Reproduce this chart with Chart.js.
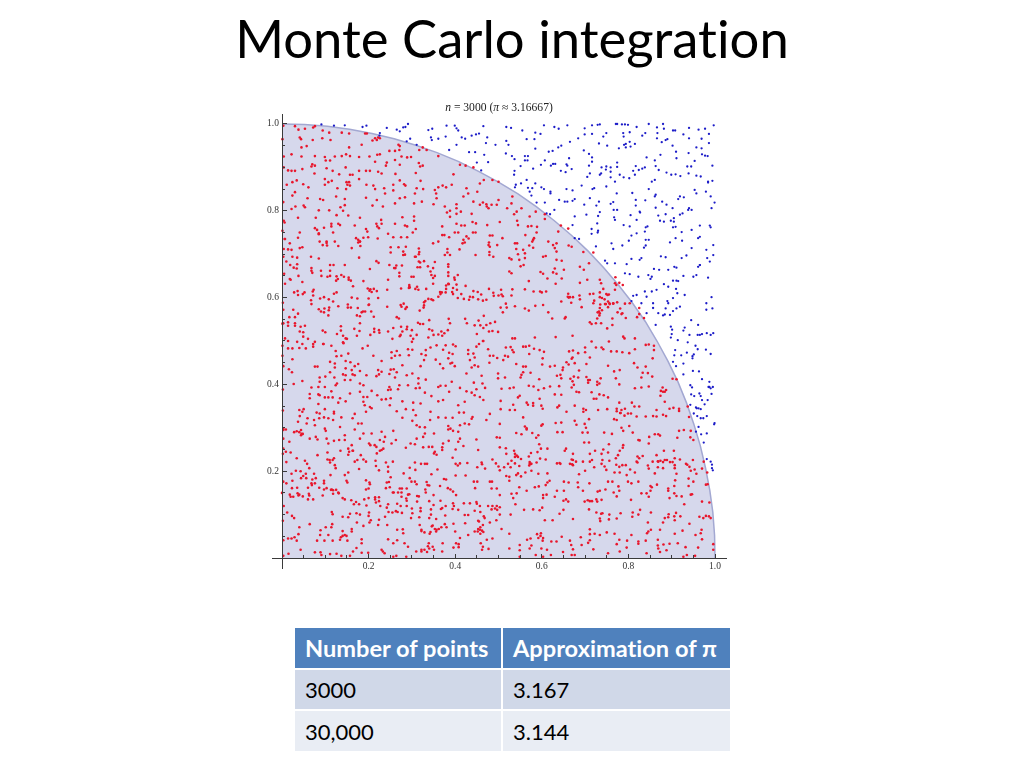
<!DOCTYPE html>
<html>
<head>
<meta charset="utf-8">
<title>Monte Carlo integration</title>
<script src="https://cdn.jsdelivr.net/npm/chart.js@4"></script>
<style>
    html, body { margin: 0; padding: 0; background: #fff; width: 1024px; height: 768px; overflow: hidden; }
    h1 { position: absolute; left: 0; width: 1024px; top: 6px; margin: 0; text-align: center; font: 400 52.6px Lato, sans-serif; font-variant-ligatures: none; color: #000; }
    #plotTitle { position: absolute; left: 240px; width: 518px; top: 101px; text-align: center; font: 11.6px "Liberation Serif", serif; color: #222; }
    #plot { position: absolute; left: 240px; top: 100px; }
    table { position: absolute; left: 295px; top: 628px; width: 435px; border-collapse: collapse; font: 22px Lato, sans-serif; font-variant-ligatures: none; color: #000; }
    td, th { padding: 0 0 0 10px; text-align: left; border: 2px solid #fff; border-top: 0; }
    td:first-child, th:first-child { border-left: 0; width: 196px; }
    td:last-child, th:last-child { border-right: 0; }
    th { background: #4f81bd; color: #fff; font-weight: 700; font-size: 23.6px; height: 40px; white-space: nowrap; }
    tr.a td { background: #d0d8e8; height: 39px; }
    tr.b td { background: #e9edf4; height: 40px; border-bottom: 0; }
</style>
</head>
<body>
<h1>Monte Carlo integration</h1>
<canvas id="plot" width="518" height="490"></canvas>
<div id="plotTitle"><i>n</i> = 3000 (<i>π</i> ≈ 3.16667)</div>
<table>
    <tr><th>Number of points</th><th>Approximation of π</th></tr>
    <tr class="a"><td>3000</td><td>3.167</td></tr>
    <tr class="b"><td>30,000</td><td>3.144</td></tr>
</table>
<script>
// Tick labels
const majorTicks = [0.2, 0.4, 0.6, 0.8, 1.0];

// Quarter circle boundary
const arcX = [0, .052, .105, .156, .208, .259, .309, .358, .407, .454, .5, .545, .588, .629, .669, .707, .743, .777, .809, .839, .866, .891, .914, .934, .951, .966, .978, .988, .995, .999, 1];
const arcY = [1, .999, .995, .988, .978, .966, .951, .934, .914, .891, .866, .839, .809, .777, .743, .707, .669, .629, .588, .545, .5, .454, .407, .358, .309, .259, .208, .156, .105, .052, 0];

// Points, each list is x, y, x, y, ...
const blueTopLeft = [
.091,.999,.120,.996,.145,.997,.186,.993,.195,.996,.226,.979,.225,.973,.242,.991,.265,.987,.272,.983,.280,.992,.285,.993,.291,1.0,.296,.966,.288,.960,.311,.952,.338,.986,.347,.989,.344,.969,.346,.963,.361,.966,.380,.996,.399,.996,.403,.990,.407,.985,.378,.971,.415,.969,.423,.966,.438,.973,.448,.976,.455,.978,.465,.995,.474,.969,.471,.956,.493,.952,.386,.940,.403,.952,.432,.935,.446,.935,.467,.929,.450,.911,.476,.912,.460,.893
];
const blueUpper = [
.518,.993,.529,.991,.555,.985,.605,.997,.629,.993,.639,.989,.659,.997,.597,.977,.585,.980,.565,.965,.583,.965,.518,.961,.523,.952,.585,.943,.517,.932,.531,.926,.537,.919,.561,.926,.568,.926,.561,.916,.567,.916,.551,.903,.537,.892,.536,.883,.580,.897,.598,.906,.607,.916,.616,.936,.625,.938,.638,.946,.645,.950,.665,.959,.684,.967,.699,.990,.716,.997,.729,.998,.734,.999,.699,.976,.716,.977,.749,.979,.742,.971,.732,.955,.751,.950,.697,.939,.709,.931,.716,.923,.716,.913,.663,.921,.621,.904,.626,.908,.631,.908,.657,.907,.659,.904,.644,.892,.655,.889,.669,.896,.709,.904,.711,.886,.705,.878,.738,.900,.749,.902,.737,.886,.748,.895,.759,.900,.759,.890,.774,.911,.774,.901,.778,.944,.790,.952,.794,.954,.794,.946,.803,.959,.805,.948,.815,.954,.789,.971,.803,.981,.788,.979,.771,1.0,.774,1.0,.785,.999,.792,.999,.799,.998,.819,.993,.847,1.0,.866,.992,.880,1.0,.882,.989,.839,.979,.832,.973,.866,.967,.867,.979,.903,.985,.908,.985,.877,.958,.886,.963,.890,.965,.902,.950,.910,.936,.940,.991,.927,.976,.940,.967,.962,.987,.977,.989,.997,.997,.969,.966,.986,.977,.986,.956
];
const blueMiddle = [
.969,.944,.957,.946,.939,.933,.970,.930,.977,.927,.983,.926,.994,.904,.953,.915,.945,.902,.936,.902,.911,.921,.874,.929,.861,.916,.863,.903,.870,.894,.842,.923,.838,.900,.832,.897,.824,.894,.817,.903,.811,.892,.815,.883,.802,.875,.789,.877,.780,.883,.759,.877,.769,.867,.734,.883,.861,.871,.854,.867,.888,.888,.899,.883,.909,.884,.920,.880,.939,.886,.957,.881,.967,.879,.984,.867,.994,.869,.984,.865,.863,.837,.847,.850,.809,.841,.773,.840,.749,.856,.721,.852,.717,.850,.692,.858,.671,.847,.657,.850,.620,.844,.620,.840,.605,.850,.599,.854,.585,.863,.578,.852,.568,.853,.565,.871,.552,.863,.540,.860,.538,.854,.572,.844,.576,.835,.676,.827,.671,.823,.659,.821,.653,.821,.640,.825,.607,.819,.588,.819,.629,.802,.611,.794,.619,.792,.698,.814,.711,.829,.732,.821,.726,.812,.765,.820,.759,.816,.766,.802,.774,.802,.817,.825,.817,.812,.839,.824,.861,.833,.878,.821,.888,.814,.902,.806,.919,.833,.915,.827,.928,.831,.940,.806,.946,.802,.953,.848,.957,.840,.979,.844,.990,.833,.999,.819,.992,.806,.919,.791,.925,.794,.938,.802,.905,.783,.886,.792,.869,.789,.863,.807,.826,.798,.827,.796,.805,.790,.767,.785,.730,.788,.734,.797,.703,.791,.676,.787,.671,.767,.728,.771,.715,.758,.715,.747,.730,.754,.729,.750,.686,.735,.676,.737,.769,.779,.789,.767,.819,.779,.803,.764,.807,.743,.801,.731,.819,.748,.840,.762,.844,.764,.838,.752,.840,.733,.847,.733,.836,.715,.840,.720
];
const blueLower = [
.873,.777,.882,.775,.898,.777,.905,.775,.903,.762,.909,.763,.923,.751,.946,.756,.965,.766,.988,.766,.990,.762,.965,.740,.961,.737,.924,.731,.909,.737,.896,.727,.946,.714,.980,.710,.996,.721,.996,.698,.982,.691,.988,.683,.965,.675,.961,.671,.984,.646,.957,.652,.950,.648,.923,.691,.934,.697,.875,.695,.886,.693,.830,.691,.826,.687,.807,.689,.796,.677,.786,.720,.765,.712,.761,.725,.725,.718,.746,.685,.751,.679,.769,.679,.792,.656,.803,.654,.823,.648,.846,.652,.854,.648,.851,.643,.871,.664,.859,.666,.892,.664,.906,.671,.911,.669,.903,.639,.911,.639,.915,.638,.927,.650,.965,.675,.882,.631,.892,.625,.910,.620,.913,.610,.930,.606,.903,.599,.892,.587,.890,.592,.919,.579,.911,.575,.903,.569,.886,.575,.884,.561,.896,.560,.880,.559,.869,.564,.857,.576,.857,.587,.842,.602,.838,.614,.819,.606,.811,.604,.807,.592,.830,.587,.854,.614,.865,.618,.842,.564,.863,.537,.898,.533,.901,.526,.930,.531,.945,.548,.961,.537,.992,.601,.980,.587,.994,.575,.980,.572,.981,.518,.996,.518,.965,.514
];
const blueEdge = [
.898,.508,.900,.516,.914,.502,.927,.524,.941,.514,.937,.497,.960,.514,.970,.516,.955,.489,.990,.514,.960,.481,.979,.480,.990,.470,.908,.479,.906,.467,.922,.467,.935,.473,.951,.469,.948,.465,.948,.460,.903,.452,.910,.442,.927,.448,.927,.423,.949,.431,.963,.430,.970,.412,.987,.406,.987,.394,.995,.394,.985,.394,.992,.378,.990,.391,.943,.398,.947,.393,.945,.377,.964,.379,.952,.373,.967,.373,.970,.364,.943,.353,.956,.347,.967,.343,.983,.364,.976,.354,.958,.345,.962,.345,.951,.333,.973,.322,.981,.327,.959,.327,.967,.322,.962,.302,.999,.311,.956,.291,.968,.285,.981,.287,.998,.308,.974,.266,.981,.228,.990,.222,.993,.215,.993,.207,.995,.202
];
const redTop = [
.003,.996,.030,.995,.038,.987,.053,.989,.072,.992,.076,.995,.094,.985,.109,.980,.138,.980,.155,.978,.001,.965,.041,.969,.044,.965,.045,.946,.057,.949,.071,.963,.093,.967,.112,.963,.192,.978,.196,.978,.215,.967,.222,.969,.226,.967,.209,.962,.219,.963,.155,.946,.184,.952,.269,.952,.272,.949,.271,.940,.261,.938,.248,.938,.325,.946,.334,.940,.361,.926,.317,.940,.004,.925,.022,.930,.045,.925,.076,.926,.099,.924,.101,.916,.111,.916,.122,.925,.138,.926,.148,.930,.157,.926,.178,.924,.202,.925,.220,.929,.226,.930,.215,.913,.242,.911,.240,.904,.261,.917,.276,.925,.289,.923,.298,.924,.272,.906,.316,.910,.319,.902,.325,.904,.070,.907,.076,.904,.068,.902,.103,.898,.117,.892,.147,.900,.075,.886,.004,.900,.014,.893,.022,.892,.030,.892,.047,.896,.132,.884,.157,.883,.163,.883,.178,.892,.194,.892,.203,.892,.222,.890,.230,.886,.262,.885,.309,.887,.396,.884,.411,.906,.424,.904,.442,.900,.466,.871,.486,.871,.500,.867,.099,.873,.115,.869,.107,.866,.099,.860,.149,.866,.155,.866,.151,.860,.157,.858,.148,.850,.178,.873,.195,.860,.211,.858,.215,.850,.257,.860,.272,.870,.282,.861,.285,.858,.320,.869,.311,.852,.307,.840,.024,.866,.034,.870,.049,.861,.061,.854,.011,.860,.030,.843,.024,.835,.059,.829,.088,.827,.095,.825,.128,.852,.125,.833,.145,.827,.194,.830,.219,.825,.238,.840,.236,.852,.257,.847,.272,.829,.284,.831,.305,.817,.326,.850,.353,.848,.361,.854,.371,.858,.379,.854,.392,.860,.426,.852,.430,.840,.451,.844,.457,.863,.356,.840,.357,.829,.419,.833,.403,.815,.473,.810,.484,.814,.500,.825,.496,.814,.457,.814,.442,.821,.403,.806,.376,.810,.022,.804,.031,.810,.050,.812,.053,.808,.085,.801,.109,.801,.135,.808,.145,.813,.141,.800,.209,.812,.233,.810,.261,.817,.323,.821,.350,.815,.381,.796,.403,.793,.388,.800,.464,.819,.472,.815,.477,.806,.413,.798
];
const redUpperLeft = [
.004,.777,.037,.784,.078,.784,.126,.790,.153,.789,.180,.784,.278,.785,.305,.787,.305,.777,.388,.786,.438,.793,.448,.771,.440,.774,.114,.770,.114,.764,.130,.770,.134,.767,.168,.766,.218,.770,.230,.770,.229,.779,.220,.764,.224,.760,.261,.770,.284,.766,.289,.764,.370,.764,.403,.770,.414,.766,.422,.766,.474,.767,.001,.754,.076,.760,.081,.756,.085,.748,.085,.746,.097,.761,.041,.750,.118,.750,.194,.758,.197,.752,.245,.747,.309,.758,.302,.750,.431,.736,.370,.744,.375,.744,.399,.750,.407,.750,.441,.750,.447,.750,.480,.743,.486,.743,.426,.741,.386,.739,.007,.735,.037,.738,.171,.737,.188,.738,.199,.739,.275,.739,.289,.739,.257,.739,.006,.735,.103,.729,.122,.729,.087,.729,.103,.726,.104,.720,.094,.721,.130,.719,.176,.727,.180,.729,.176,.733,.221,.736,.181,.719,.180,.729,.349,.725,.361,.729,.419,.733,.417,.725,.422,.727,.478,.727,.477,.721,.480,.717,.497,.721,.018,.725,.022,.710,.004,.712,.014,.711,.041,.714,.047,.716,.161,.714,.251,.716,.269,.716,.286,.717,.251,.704,.280,.706,.316,.713,.317,.705,.382,.712,.382,.704,.388,.698,.447,.698,.410,.711,.479,.698,.479,.705,.488,.694,.284,.699,.307,.694,.328,.684,.316,.700,.309,.694,.280,.698,.376,.698,.353,.682,.024,.694,.035,.692,.067,.694,.085,.690,.178,.692,.145,.675,.111,.675,.019,.675,.035,.677,.010,.683,.119,.675,.218,.684,.223,.680,.248,.675,.264,.674,.277,.674,.262,.668,.316,.683,.319,.681,.337,.672,.349,.668,.313,.670,.384,.677,.384,.658,.343,.660,.319,.670,.384,.671
];
const redUpperMid = [
.027,.669,.034,.667,.068,.668,.090,.662,.068,.662,.070,.657,.111,.662,.111,.650,.018,.643,.020,.641,.047,.636,.038,.650,.137,.652,.154,.646,.159,.639,.203,.666,.245,.641,.259,.668,.271,.657,.271,.649,.299,.648,.304,.648,.345,.652,.353,.650,.349,.645,.384,.650,.384,.632,.398,.646,.406,.652,.385,.631,.399,.641,.349,.632,.275,.621,.294,.629,.294,.625,.312,.625,.295,.623,.379,.628,.379,.620,.393,.613,.403,.630,.424,.627,.414,.608,.395,.622,.091,.650,.105,.648,.126,.649,.125,.639,.143,.648,.129,.643,.212,.620,.219,.615,.243,.618,.164,.626,.154,.641,.036,.615,.037,.606,.028,.612,.048,.608,.052,.612,.073,.618,.072,.605,.120,.609,.126,.612,.071,.614,.198,.621,.202,.616,.207,.613,.204,.619,.188,.638,.293,.622,.308,.620,.315,.618,.333,.620,.369,.612,.378,.612,.404,.618,.395,.608,.478,.620,.488,.611,.489,.604,.460,.607,.442,.615,.452,.613,.434,.602,.441,.601,.365,.613,.345,.596,.338,.597,.366,.608,.361,.602,.349,.594,.406,.599,.420,.597,.453,.596,.464,.593,.472,.595,.432,.595,.088,.598,.108,.596,.097,.601,.068,.585,.067,.594,.118,.591,.161,.600,.174,.598,.200,.598,.222,.599,.200,.583,.201,.584,.274,.583,.288,.578,.327,.577,.328,.589,.331,.592,.328,.582,.281,.586,.243,.579,.276,.579,.285,.574,.152,.584,.152,.577,.130,.580,.159,.577,.175,.576,.085,.573,.098,.575,.108,.571,.003,.572,.026,.572,.109,.577,.090,.568,.097,.566,.107,.559,.173,.559,.184,.566,.180,.557,.187,.568,.192,.568,.206,.568,.212,.556,.265,.555,.318,.570,.270,.552,.340,.548,.385,.551,.466,.558,.423,.551,.454,.547,.481,.541,.492,.544,.458,.536,.472,.537,.445,.536
];
const redUpperLow = [
.037,.563,.017,.555,.030,.555,.003,.541,.014,.543,.014,.535,.030,.541,.030,.535,.043,.533,.053,.535,.180,.541,.213,.528,.213,.521,.224,.525,.225,.519,.314,.542,.319,.539,.326,.539,.289,.533,.275,.533,.288,.527,.388,.541,.427,.541,.465,.530,.486,.523,.478,.522,.136,.534,.167,.528,.257,.530,.245,.522,.094,.524,.100,.520,.136,.524,.179,.523,.173,.512,.278,.522,.340,.527,.347,.524,.368,.522,.383,.525,.350,.514,.450,.516,.499,.521,.041,.522,.049,.520,.127,.516,.204,.514,.297,.512,.311,.514,.375,.518,.300,.525,.303,.505,.274,.514,.255,.505,.007,.506,.049,.510,.060,.505,.141,.512,.147,.506,.150,.505,.338,.508,.361,.515,.370,.512,.035,.498,.076,.498,.096,.493,.142,.495,.272,.511,.300,.498,.395,.492,.464,.500
];
const redMiddleLeft = [
.014,.500,.047,.493,.072,.493,.095,.493,.141,.497,.114,.489,.014,.483,.024,.483,.040,.484,.055,.483,.072,.487,.124,.477,.153,.471,.186,.483,.198,.489,.253,.474,.265,.477,.261,.466,.272,.467,.291,.481,.301,.480,.332,.479,.343,.485,.357,.490,.378,.490,.401,.488,.430,.479,.449,.487,.455,.493,.465,.500,.476,.481,.001,.466,.024,.458,.111,.452,.126,.465,.137,.466,.122,.448,.147,.454,.158,.451,.211,.466,.230,.454,.253,.461,.293,.467,.322,.470,.332,.467,.328,.456,.355,.457,.372,.480,.386,.473,.394,.470,.384,.460,.393,.450,.365,.447,.430,.470,.442,.471,.445,.462,.434,.456,.480,.466,.488,.466,.497,.461,.076,.441,.082,.441,.122,.439,.168,.442,.176,.447,.147,.437,.016,.435,.023,.428,.195,.421,.222,.433,.230,.429,.224,.423,.251,.434,.258,.435,.265,.428,.248,.424,.278,.444,.288,.421,.301,.425,.320,.442,.389,.448,.399,.442,.372,.437,.438,.439,.445,.444,.453,.441,.479,.450,.426,.425,.461,.420,.499,.425,.087,.416,.100,.418,.111,.428,.121,.416,.141,.423,.161,.433,.163,.423,.180,.431,.147,.421,.168,.421,.218,.419,.261,.416,.315,.414,.332,.411,.047,.408,.145,.410,.158,.410,.087,.406,.084,.394,.027,.401,.124,.398,.127,.402,.180,.402,.188,.398,.271,.398,.291,.398,.315,.402,.392,.406,.443,.404,.463,.402,.499,.414,.068,.393,.099,.394,.114,.384,.157,.379,.180,.383,.207,.385,.245,.387,.251,.388,.268,.389,.248,.394,.309,.391,.318,.392,.330,.381,.361,.394,.366,.397,.378,.397,.386,.383,.411,.392,.449,.389,.469,.392
];
const redMiddleLow = [
.064,.378,.084,.377,.087,.375,.099,.370,.064,.368,.107,.370,.117,.370,.134,.368,.220,.375,.188,.371,.197,.371,.230,.365,.240,.366,.251,.368,.345,.373,.361,.361,.372,.364,.426,.384,.438,.381,.445,.375,.465,.364,.457,.371,.130,.358,.147,.361,.188,.360,.278,.361,.303,.358,.320,.356,.191,.352,.203,.348,.207,.345,.084,.355,.249,.352,.422,.360,.040,.341,.050,.343,.037,.314,.047,.337,.041,.327,.080,.335,.087,.333,.099,.343,.120,.337,.120,.333,.194,.337,.265,.338,.286,.343,.303,.341,.343,.337,.407,.352,.409,.335,.420,.335,.480,.332,.059,.322,.074,.318,.086,.322,.097,.324,.107,.322,.118,.318,.137,.324,.163,.322,.168,.332,.278,.323,.301,.316,.309,.329,.361,.324,.378,.323,.394,.323,.438,.321,.440,.325,.472,.318,.057,.310,.076,.306,.176,.310,.184,.310,.342,.318,.411,.306,.422,.310,.432,.308,.003,.298,.099,.298,.134,.302,.101,.293,.168,.296,.311,.306,.318,.302,.330,.301,.384,.304,.389,.298,.384,.296,.395,.293,.257,.293,.207,.287,.230,.291,.188,.287,.407,.291,.238,.279,.145,.283,.326,.279,.330,.287,.351,.287,.003,.275,.064,.275,.078,.279,.082,.273,.103,.275,.120,.270,.132,.272,.145,.272,.180,.275,.311,.275,.017,.268,.107,.264,.161,.260,.201,.264,.204,.260,.214,.260,.226,.272,.235,.268,.253,.264,.263,.272,.297,.264,.307,.262,.372,.264,.385,.270,.411,.275,.407,.268,.449,.273,.496,.278,.003,.252,.153,.252,.155,.245,.163,.247,.218,.256,.226,.247,.234,.252,.286,.254,.326,.255,.339,.256,.347,.256,.370,.255,.370,.249,.353,.245,.401,.250,.419,.258,.453,.249
];
const redUpperRight = [
.532,.833,.530,.817,.520,.806,.553,.806,.542,.798,.536,.792,.586,.798,.572,.787,.607,.792,.607,.781,.503,.774,.543,.777,.545,.767,.568,.764,.576,.765,.589,.763,.588,.750,.562,.744,.644,.766,.638,.752,.661,.759,.509,.737,.538,.725,.543,.725,.580,.733,.578,.729,.582,.737,.615,.729,.626,.721,.634,.725,.630,.714,.571,.720,.580,.715,.669,.717,.662,.720,.541,.712,.557,.710,.561,.702,.545,.700,.525,.691,.530,.688,.561,.691,.548,.687,.551,.672,.558,.675,.603,.694,.609,.696,.634,.706,.634,.687,.646,.685,.696,.705,.719,.704,.688,.671,.697,.664,.709,.679,.525,.660,.530,.656,.651,.664,.597,.659,.603,.655,.626,.658,.634,.655,.630,.667,.613,.644,.632,.632,.646,.644,.742,.620,.749,.608,.688,.634,.705,.641,.734,.641,.770,.647,.779,.634,.787,.629,.737,.633,.570,.638,.600,.612,.596,.614,.581,.614,.532,.619,.561,.619,.506,.618,.510,.603,.500,.605,.687,.605,.661,.609,.660,.602,.665,.601,.688,.596,.711,.608,.748,.585,.746,.585,.769,.633,.772,.629,.769,.618,.774,.589,.755,.607,.719,.609,.721,.593,.739,.599,.752,.606,.781,.575,.672,.601,.668,.588,.645,.591,.538,.580,.561,.575,.507,.607,.505,.577,.517,.586,.530,.605,.610,.614,.603,.583,.585,.581,.570,.570,.519,.577,.510,.566,.615,.566,.624,.552,.662,.600,.655,.555,.653,.552,.729,.566,.734,.564,.732,.568,.728,.552,.733,.559,.734,.601,.745,.596,.756,.587,.753,.591,.765,.586,.734,.612,.734,.576,.757,.585,.719,.587,.735,.584,.739,.571,.765,.587,.775,.566,.784,.562,.794,.553,.725,.541,.737,.541,.751,.529,.763,.552,.803,.587,.825,.562,.836,.553,.786,.564,.792,.586,.825,.576,.820,.555,.692,.578,.715,.539,.711,.543,.753,.578,.763,.537
];
const redRightMid = [
.532,.506,.538,.506,.584,.508,.632,.509,.671,.512,.517,.485,.528,.486,.532,.479,.535,.474,.557,.487,.563,.487,.571,.489,.582,.482,.595,.479,.605,.475,.715,.499,.700,.485,.725,.485,.738,.485,.755,.499,.742,.481,.760,.476,.773,.476,.788,.510,.791,.506,.815,.506,.840,.491,.847,.492,.859,.489,.859,.479,.786,.474,.802,.472,.815,.481,.672,.478,.663,.476,.684,.472,.700,.474,.571,.470,.515,.466,.522,.464,.511,.456,.602,.460,.711,.462,.856,.460,.541,.447,.557,.441,.563,.441,.601,.446,.619,.441,.630,.443,.657,.451,.669,.459,.671,.462,.662,.446,.676,.449,.703,.447,.753,.443,.813,.449,.821,.439,.840,.441,.649,.439,.648,.433,.686,.432,.767,.430,.780,.433,.574,.427,.557,.428,.553,.422,.551,.416,.515,.416,.635,.420,.643,.422,.645,.414,.594,.412,.674,.418,.684,.416,.703,.417,.707,.410,.833,.427,.845,.426,.830,.416,.855,.418,.771,.414,.902,.413,.911,.412,.666,.413,.671,.407,.674,.399,.707,.404,.711,.410,.728,.406,.736,.414,.728,.399,.733,.402,.779,.400,.640,.396,.570,.397,.581,.395,.605,.391,.619,.395,.507,.390,.526,.391,.535,.393,.669,.393,.815,.391,.830,.393,.847,.395,.879,.393,.887,.387,.884,.383,.875,.385,.874,.374,.880,.383,.549,.374,.545,.370,.592,.387,.630,.377,.645,.376,.680,.383,.686,.382,.715,.382,.733,.377,.743,.375,.753,.370,.595,.367,.505,.362,.565,.358,.580,.357,.580,.351,.568,.353,.534,.353,.526,.341,.505,.343,.538,.341,.640,.351,.636,.347,.676,.351,.599,.351,.602,.344,.720,.367,.726,.367,.696,.344,.702,.341,.730,.341,.751,.343,.779,.358,.808,.358,.825,.349,.814,.349,.884,.360,.904,.346,.917,.344,.937,.349,.865,.341,.865,.326,.880,.330,.887,.327,.657,.337
];
const redRightLow = [
.696,.337,.773,.344,.784,.341,.792,.344,.781,.334,.799,.333,.791,.328,.782,.334,.773,.338,.806,.333,.840,.326,.819,.326,.857,.327,.895,.344,.917,.339,.940,.325,.503,.309,.557,.324,.602,.308,.599,.305,.561,.303,.565,.299,.565,.296,.632,.311,.645,.312,.676,.316,.680,.307,.699,.309,.709,.320,.767,.320,.773,.318,.702,.300,.784,.300,.802,.304,.541,.288,.553,.285,.578,.288,.592,.283,.587,.277,.636,.290,.648,.290,.694,.289,.706,.289,.744,.289,.762,.286,.788,.293,.810,.289,.861,.285,.869,.285,.873,.282,.848,.279,.917,.293,.928,.295,.944,.293,.913,.277,.943,.278,.950,.272,.594,.262,.698,.266,.755,.262,.787,.254,.788,.260,.503,.277,.518,.240,.517,.253,.598,.252,.613,.252,.575,.242,.656,.252,.709,.266,.753,.243,.742,.250,.823,.272,.826,.271,.847,.264,.970,.206,.941,.210,.933,.217,.936,.215,.953,.204,.889,.226,.868,.223,.856,.222,.819,.222,.847,.206,.861,.195,.779,.210,.772,.215,.756,.224,.740,.226,.721,.209,.695,.222,.641,.219,.670,.216,.700,.201,.745,.211,.845,.213,.821,.220,.503,.255,.542,.236,.538,.233,.530,.224,.545,.233,.552,.228,.548,.212,.570,.234,.574,.217,.572,.221,.562,.197,.596,.229,.588,.220,.552,.188,.525,.187,.513,.209,.503,.202
];
const redBottomLeft = [
.009,.245,.020,.243,.082,.237,.105,.243,.120,.230,.135,.247,.153,.238,.164,.247,.182,.237,.219,.241,.230,.249,.351,.241,.357,.238,.034,.230,.010,.221,.053,.224,.058,.217,.063,.207,.105,.227,.110,.226,.117,.226,.122,.214,.124,.207,.111,.220,.174,.226,.168,.222,.188,.227,.194,.222,.216,.224,.217,.212,.240,.220,.245,.210,.256,.222,.295,.208,.307,.220,.321,.217,.330,.217,.335,.217,.394,.231,.401,.217,.406,.213,.411,.218,.428,.219,.451,.209,.462,.216,.461,.220,.486,.227,.469,.206,.494,.218,.500,.211,.022,.194,.032,.201,.043,.200,.049,.189,.055,.194,.056,.184,.044,.184,.010,.172,.024,.178,.074,.194,.078,.184,.070,.181,.076,.172,.068,.172,.112,.191,.145,.191,.153,.197,.178,.205,.194,.179,.202,.174,.224,.202,.245,.199,.251,.186,.281,.195,.295,.184,.299,.176,.308,.203,.345,.193,.359,.204,.374,.182,.379,.181,.401,.190,.424,.190,.443,.176,.451,.176,.480,.176,.485,.176,.149,.178,.151,.174,.203,.170,.242,.174,.307,.176,.334,.175,.336,.168,.097,.178,.097,.172,.247,.175,.311,.170
];
const redBottomMid = [
.097,.158,.103,.161,.115,.158,.086,.162,.069,.168,.060,.162,.035,.162,.023,.161,.113,.157,.118,.156,.125,.157,.131,.149,.130,.151,.026,.141,.063,.144,.048,.142,.062,.148,.040,.146,.036,.149,.094,.144,.118,.148,.194,.158,.200,.160,.240,.161,.249,.163,.272,.160,.277,.160,.288,.160,.256,.151,.258,.151,.268,.151,.276,.151,.276,.141,.350,.145,.332,.151,.331,.158,.402,.145,.383,.161,.389,.158,.365,.166,.340,.167,.395,.153,.446,.161,.484,.160,.496,.160,.000,.150,.018,.146,.060,.135,.072,.135,.145,.135,.190,.135,.200,.138,.215,.140,.224,.140,.160,.133,.294,.147,.287,.137,.291,.146,.312,.143,.316,.142,.340,.131,.288,.132,.312,.130,.020,.141,.038,.144,.140,.138,.166,.124,.178,.124,.215,.135,.224,.131,.288,.120,.171,.129,.195,.121,.217,.128,.245,.124,.266,.125,.274,.120,.227,.120,.350,.122,.366,.132,.378,.120,.449,.129,.457,.120,.476,.120,.395,.126,.300,.114,.320,.115,.267,.106,.263,.108,.242,.116,.320,.108,.344,.112,.370,.115,.397,.120,.407,.111,.420,.126,.434,.126,.450,.125,.486,.120,.496,.120,.458,.106,.445,.109,.012,.105,.115,.106,.157,.102,.172,.103,.201,.105,.246,.106,.255,.105,.277,.104,.301,.103,.344,.100,.377,.098,.394,.113,.367,.113,.484,.112,.492,.114,.497,.111,.023,.097,.028,.092,.117,.101,.140,.095,.153,.094,.180,.100,.200,.097,.205,.087,.202,.082,.238,.095,.224,.088,.298,.092,.317,.094,.340,.092,.356,.090,.455,.084,.466,.096,.422,.099,.430,.099,.468,.092,.480,.082,.453,.086,.495,.087
];
const redBottomLow = [
.064,.078,.116,.078,.173,.082,.188,.074,.243,.076,.222,.076,.318,.076,.376,.078,.396,.079,.423,.080,.453,.067,.458,.071,.464,.076,.380,.071,.348,.075,.322,.062,.329,.059,.346,.073,.353,.067,.357,.065,.457,.065,.452,.061,.458,.056,.465,.060,.040,.071,.089,.064,.101,.071,.114,.071,.161,.067,.161,.061,.140,.062,.266,.065,.279,.066,.280,.057,.322,.065,.341,.056,.343,.060,.368,.071,.356,.061,.362,.067,.400,.061,.430,.053,.445,.061,.462,.063,.038,.055,.088,.053,.022,.045,.029,.048,.014,.045,.034,.040,.107,.053,.145,.053,.140,.051,.136,.048,.149,.051,.134,.042,.151,.040,.081,.040,.098,.040,.117,.040,.184,.043,.184,.034,.245,.043,.266,.041,.283,.034,.257,.034,.291,.026,.322,.019,.322,.015,.329,.019,.339,.034,.371,.034,.370,.015,.335,.014,.348,.026,.351,.019,.337,.027,.411,.046,.408,.032,.402,.034,.396,.024,.459,.034,.464,.026,.473,.042,.408,.025,.462,.019,.477,.021,.486,.045,.233,.015,.237,.011,.230,.019,.310,.015,.340,.022,.111,.009,.089,.013,.076,.013,.126,.010,.157,.005,.172,.023,.164,.015,.137,.005,.091,.007,.043,.019,.015,.010,.003,.005,.184,.012,.199,.012,.257,.003,.264,.005,.287,.003
];
const redBottomRight = [
.536,.247,.538,.240,.590,.244,.653,.247,.672,.240,.711,.240,.723,.247,.738,.240,.780,.247,.776,.237,.771,.230,.821,.234,.825,.230,.833,.235,.865,.237,.882,.247,.905,.247,.609,.227,.669,.227,.672,.226,.679,.222,.665,.217,.711,.222,.716,.226,.635,.218,.643,.217,.672,.214,.738,.217,.522,.217,.538,.218,.572,.217,.576,.217,.571,.213,.869,.222,.874,.224,.880,.221,.884,.226,.896,.221,.902,.221,.907,.230,.919,.227,.907,.214,.949,.226,.974,.222,.786,.214,.794,.214,.804,.204,.749,.203,.528,.209,.545,.195,.541,.191,.576,.201,.613,.195,.592,.194,.686,.193,.815,.197,.796,.191,.780,.197,.768,.197,.907,.207,.868,.209,.880,.207,.911,.194,.944,.201,.957,.194,.982,.197,.518,.189,.525,.178,.618,.178,.613,.174,.593,.165,.609,.168,.651,.176,.662,.174,.683,.174,.710,.172,.753,.176,.763,.176,.807,.172,.823,.176,.799,.176,.908,.179,.939,.183,.950,.176,.979,.169,.983,.170,.584,.163,.565,.155,.548,.163,.635,.155,.651,.155,.684,.163,.695,.155,.734,.155,.747,.158,.766,.151,.777,.165,.854,.163,.851,.166,.892,.155,.892,.160,.906,.166,.866,.169,.906,.149,.944,.146,.947,.147,.939,.166,.530,.148,.542,.149,.503,.145,.603,.145,.611,.146,.630,.141,.729,.153,.706,.133,.779,.155,.830,.149,.842,.149,.851,.155,.847,.141,.911,.143,.923,.142,.929,.124,.970,.130,.987,.128,.534,.138,.539,.124,.603,.138,.650,.132,.656,.135,.661,.130,.711,.131,.726,.135,.728,.130,.738,.134,.773,.142,.806,.134,.895,.138,.503,.117,.580,.112,.601,.116,.650,.111,.709,.112,.726,.105,.737,.102,.740,.103,.756,.100,.782,.103,.810,.105,.823,.100,.827,.111,.852,.105
];
const redBottomEnd = [
.910,.104,.906,.096,.893,.101,.892,.094,.845,.082,.880,.082,.907,.087,.979,.097,.973,.092,.990,.092,.699,.130,.755,.089,.716,.131,.734,.091,.503,.100,.528,.100,.559,.111,.595,.110,.607,.087,.625,.087,.641,.102,.672,.090,.735,.085,.773,.091,.809,.095,.884,.092,.920,.096,.964,.095,.986,.096,.507,.067,.525,.056,.711,.066,.711,.055,.722,.056,.734,.053,.750,.059,.768,.056,.807,.053,.843,.057,.846,.061,.852,.065,.873,.065,.925,.063,.907,.056,.941,.079,.955,.053,.969,.065,.598,.057,.597,.051,.589,.055,.592,.046,.603,.046,.602,.040,.574,.045,.566,.042,.646,.049,.690,.048,.711,.041,.707,.035,.665,.040,.779,.042,.797,.040,.840,.040,.868,.042,.881,.031,.914,.034,.932,.025,.967,.057,.970,.043,.996,.032,.634,.038,.622,.038,.549,.030,.576,.029,.668,.030,.692,.030,.773,.032,.823,.033,.868,.029,.895,.033,.572,.022,.612,.019,.525,.022,.549,.018,.599,.022,.649,.014,.719,.020,.672,.020,.796,.024,.823,.038,.888,.018,.961,.024,.996,.019,.586,.007,.621,.007,.669,.007,.676,.007,.753,.011,.780,.015,.842,.011,.869,.022,.873,.014,.927,.003,.935,.007,.954,.005,.549,.003,.603,.003
];
const redLeftEdge = [
.003,.820,.006,.773,.003,.694,.005,.655,.002,.588,.001,.540,.001,.489,.003,.442,.002,.388,.002,.340,.003,.295,.002,.240,.003,.176,.004,.120,.002,.086,.003,.041,.007,.632,.009,.296,.028,.290,.034,.292,.040,.290,.044,.295,.045,.286,.048,.286,.044,.283
];

const bluePoints = [...blueTopLeft, ...blueUpper, ...blueMiddle, ...blueLower, ...blueEdge];
const redPoints = [...redTop, ...redUpperLeft, ...redUpperMid, ...redUpperLow, ...redMiddleLeft, ...redMiddleLow, ...redUpperRight, ...redRightMid, ...redRightLow, ...redBottomLeft, ...redBottomMid, ...redBottomLow, ...redBottomRight, ...redBottomEnd, ...redLeftEdge];

function toXY(list) {
    const out = [];
    for (let i = 0; i < list.length; i += 2) out.push({ x: list[i], y: list[i + 1] });
    return out;
}

const xMin = -0.0231, xMax = 1.0254, yMin = -0.023, yMax = 1.023;
const axisColor = "#3a3a3a";
const labelFont = { family: "'Liberation Serif'", size: 9.5 };

const tickFormat = v => (majorTicks.includes(Math.round(v * 10) / 10) && v > 0 ? v.toFixed(1) : "");

new Chart(document.getElementById("plot"), {
    type: "scatter",
    data: {
        datasets: [
            { data: toXY(redPoints), backgroundColor: "#e8162c", borderWidth: 0, pointRadius: 1.3, order: 1 },
            { data: toXY(bluePoints), backgroundColor: "#1c1cc8", borderWidth: 0, pointRadius: 1.15, order: 2 },
            {
                data: arcX.map((x, i) => ({ x: x, y: arcY[i] })),
                showLine: true, fill: "origin", pointRadius: 0,
                borderColor: "#a3a8d2", borderWidth: 1.5, backgroundColor: "#d6d8ec", order: 3
            }
        ]
    },
    options: {
        responsive: false,
        animation: false,
        layout: { padding: { left: 32, right: 32, top: 14, bottom: 22 } },
        plugins: { legend: { display: false }, tooltip: { enabled: false }, title: { display: false } },
        scales: {
            // Major ticks on the axes themselves, x labels come with them
            // z: 1 keeps the axes and ticks on top of the filled circle
            x: {
                type: "linear", min: xMin, max: xMax, position: { y: 0 },
                border: { color: axisColor, width: 1, z: 1 },
                grid: { drawOnChartArea: false, tickLength: -5, color: axisColor, z: 1 },
                ticks: { stepSize: 0.2, includeBounds: false, autoSkip: false, maxRotation: 0, padding: 8, color: "#333", font: labelFont, callback: tickFormat }
            },
            y: {
                type: "linear", min: yMin, max: yMax, position: { x: 0 },
                border: { color: axisColor, width: 1, z: 1 },
                grid: { drawOnChartArea: false, tickLength: -5, color: axisColor, z: 1 },
                ticks: { stepSize: 0.2, includeBounds: false, display: false }
            },
            // y labels sit on their own scale, slightly left of the axis
            yLabels: {
                type: "linear", axis: "y", min: yMin, max: yMax, position: { x: -0.007 },
                border: { display: false },
                grid: { display: false },
                ticks: { stepSize: 0.2, includeBounds: false, autoSkip: false, color: "#333", font: labelFont, callback: tickFormat }
            },
            // Minor ticks on a second unlabelled pair of scales
            xMinor: {
                type: "linear", axis: "x", min: xMin, max: xMax, position: { y: 0 },
                border: { display: false },
                grid: { drawOnChartArea: false, tickLength: -3, color: axisColor, z: 1 },
                ticks: { stepSize: 0.05, includeBounds: false, autoSkip: false, maxRotation: 0, color: "transparent", font: { size: 1 } }
            },
            yMinor: {
                type: "linear", axis: "y", min: yMin, max: yMax, position: { x: 0 },
                border: { display: false },
                grid: { drawOnChartArea: false, tickLength: -3, color: axisColor, z: 1 },
                ticks: { stepSize: 0.05, includeBounds: false, autoSkip: false, color: "transparent", font: { size: 1 } }
            }
        }
    }
});
</script>
</body>
</html>
